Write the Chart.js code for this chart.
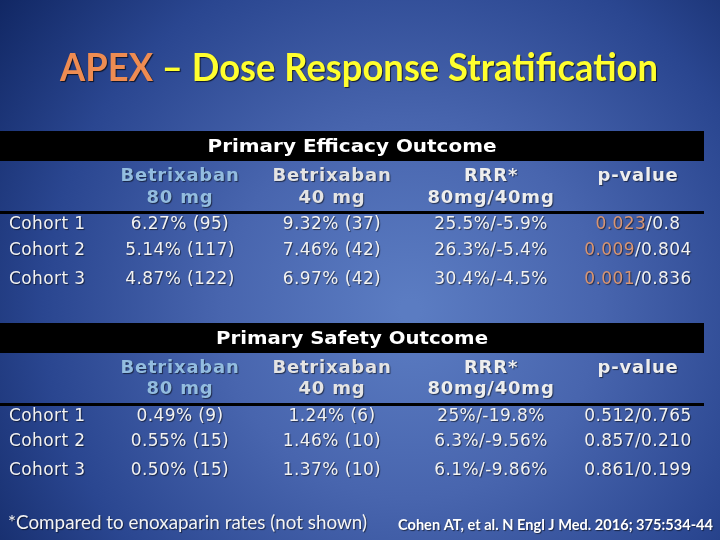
<!DOCTYPE html>
<html>
<head>
<meta charset="utf-8">
<script src="https://cdn.jsdelivr.net/npm/chart.js@4"></script>
<style>
  html, body { margin: 0; padding: 0; background: #1a3070; }
  #wrap { width: 720px; height: 540px; }
</style>
</head>
<body>
<div id="wrap"><canvas id="slide" width="720" height="540"></canvas></div>
<script>
const titleParts = ["APEX", " \u2013 Dose Response Stratification"];
const sections = ["Primary Efficacy Outcome", "Primary Safety Outcome"];
const colHeads = [["Betrixaban", "80 mg"], ["Betrixaban", "40 mg"], ["RRR*", "80mg/40mg"], ["p-value", ""]];
const cohorts = ["Cohort 1", "Cohort 2", "Cohort 3"];

const eff80 = ["6.27% (95)", "5.14% (117)", "4.87% (122)"];
const eff40 = ["9.32% (37)", "7.46% (42)", "6.97% (42)"];
const effRRR = ["25.5%/-5.9%", "26.3%/-5.4%", "30.4%/-4.5%"];
const effPSig = ["0.023", "0.009", "0.001"];
const effPRest = ["/0.8", "/0.804", "/0.836"];

const saf80 = ["0.49% (9)", "0.55% (15)", "0.50% (15)"];
const saf40 = ["1.24% (6)", "1.46% (10)", "1.37% (10)"];
const safRRR = ["25%/-19.8%", "6.3%/-9.56%", "6.1%/-9.86%"];
const safPSig = ["", "", ""];
const safPRest = ["0.512/0.765", "0.857/0.210", "0.861/0.199"];

const footnote = "*Compared to enoxaparin rates (not shown)";
const citation = "Cohen AT, et al. N Engl J Med. 2016; 375:534-44";

// layout (slide units)
const colX = [9, 180, 332, 491, 638];
const blocks = [
  { band: 131, head: [176, 198], rule: 212, rows: [225, 251, 280],
    cells: [eff80, eff40, effRRR], pSig: effPSig, pRest: effPRest },
  { band: 323, head: [368, 389], rule: 404, rows: [417, 442, 471],
    cells: [saf80, saf40, safRRR], pSig: safPSig, pRest: safPRest }
];

function txt(ctx, s, x, y, o) {
  ctx.save();
  ctx.font = o.font;
  ctx.letterSpacing = o.ls || "0px";
  ctx.fillStyle = o.color;
  ctx.textBaseline = "middle";
  ctx.textAlign = "left";
  const w = ctx.measureText(s).width;
  const sx = o.fit ? o.fit / w : 1;
  const dw = w * sx;
  let left = x;
  if (o.align === "center") left = x - dw / 2;
  if (o.align === "right") left = x - dw;
  ctx.shadowColor = o.shadow || "rgba(0,0,0,0.55)";
  ctx.shadowOffsetX = 1;
  ctx.shadowOffsetY = 1;
  ctx.shadowBlur = 1;
  ctx.translate(left, y);
  ctx.scale(sx, 1);
  ctx.fillText(s, 0, 0);
  ctx.restore();
  return dw;
}

function multi(ctx, parts, cx, y, o) {
  ctx.save();
  ctx.font = o.font;
  ctx.letterSpacing = o.ls || "0px";
  const ws = parts.map(p => ctx.measureText(p[0]).width);
  ctx.restore();
  const total = ws.reduce((a, b) => a + b, 0);
  const sx = o.fit ? o.fit / total : 1;
  let x = cx - total * sx / 2;
  parts.forEach((p, i) => {
    if (!p[0]) return;
    txt(ctx, p[0], x, y, { font: o.font, ls: o.ls, color: p[1], fit: ws[i] * sx, shadow: o.shadow });
    x += ws[i] * sx;
  });
}

const slidePlugin = {
  id: "slide",
  beforeDraw(chart) {
    const ctx = chart.ctx;
    const g = ctx.createRadialGradient(410, 310, 10, 410, 310, 520);
    g.addColorStop(0, "#5b7cc2");
    g.addColorStop(0.35, "#4865ae");
    g.addColorStop(0.7, "#2a4690");
    g.addColorStop(1, "#102662");
    ctx.fillStyle = g;
    ctx.fillRect(0, 0, chart.width, chart.height);
  },
  afterDraw(chart) {
    const ctx = chart.ctx;
    const X = v => chart.scales.x.getPixelForValue(v);
    const Y = v => chart.scales.y.getPixelForValue(v);

    multi(ctx, [[titleParts[0], "#ee8c52"], [titleParts[1], "#ffff2e"]], X(359), Y(68),
      { font: "bold 39px Lato", fit: 598, shadow: "rgba(0,0,0,0.7)" });

    blocks.forEach((b, bi) => {
      ctx.fillStyle = "#000";
      ctx.fillRect(X(0), Y(b.band), X(704) - X(0), Y(b.band + 30) - Y(b.band));
      txt(ctx, sections[bi], X(352), Y(b.band + 16), {
        font: "bold 18px 'DejaVu Sans'", color: "#ffffff", align: "center",
        fit: bi === 0 ? 289 : 272, shadow: "rgba(0,0,0,0)" });

      const headColors = ["#93bde0", "#e4e4e4", "#eeeeee", "#eeeeee"];
      colHeads.forEach((h, ci) => {
        h.forEach((line, li) => {
          if (!line) return;
          txt(ctx, line, X(colX[ci + 1]), Y(b.head[li]), {
            font: "bold 18px 'DejaVu Sans'", ls: "0.8px", color: headColors[ci], align: "center" });
        });
      });

      ctx.fillStyle = "#000";
      ctx.fillRect(X(0), Y(b.rule - 1), X(704) - X(0), 3);

      const dataFont = { font: "17px 'DejaVu Sans'", ls: "0.4px", color: "#f2f2f2" };
      cohorts.forEach((c, ri) => {
        const y = Y(b.rows[ri]);
        txt(ctx, c, X(colX[0]), y, Object.assign({}, dataFont, { align: "left" }));
        b.cells.forEach((col, ci) => {
          txt(ctx, col[ri], X(colX[ci + 1]), y, Object.assign({}, dataFont, { align: "center" }));
        });
        multi(ctx, [[b.pSig[ri], "#d99572"], [b.pRest[ri], "#f2f2f2"]], X(colX[4]), y,
          { font: dataFont.font, ls: dataFont.ls });
      });
    });

    txt(ctx, footnote, X(8), Y(523), { font: "19px Lato", color: "#f4f4f4", fit: 359 });
    txt(ctx, citation, X(398), Y(525), { font: "bold 15px Lato", color: "#ffffff", fit: 315 });
  }
};

new Chart(document.getElementById("slide"), {
  type: "scatter",
  data: { datasets: [{ data: [], pointRadius: 0 }] },
  options: {
    responsive: false,
    animation: false,
    layout: { padding: 0 },
    plugins: { legend: { display: false }, tooltip: { enabled: false } },
    scales: {
      x: { type: "linear", min: 0, max: 720, display: false },
      y: { type: "linear", min: 0, max: 540, reverse: true, display: false }
    }
  },
  plugins: [slidePlugin]
});
</script>
</body>
</html>
